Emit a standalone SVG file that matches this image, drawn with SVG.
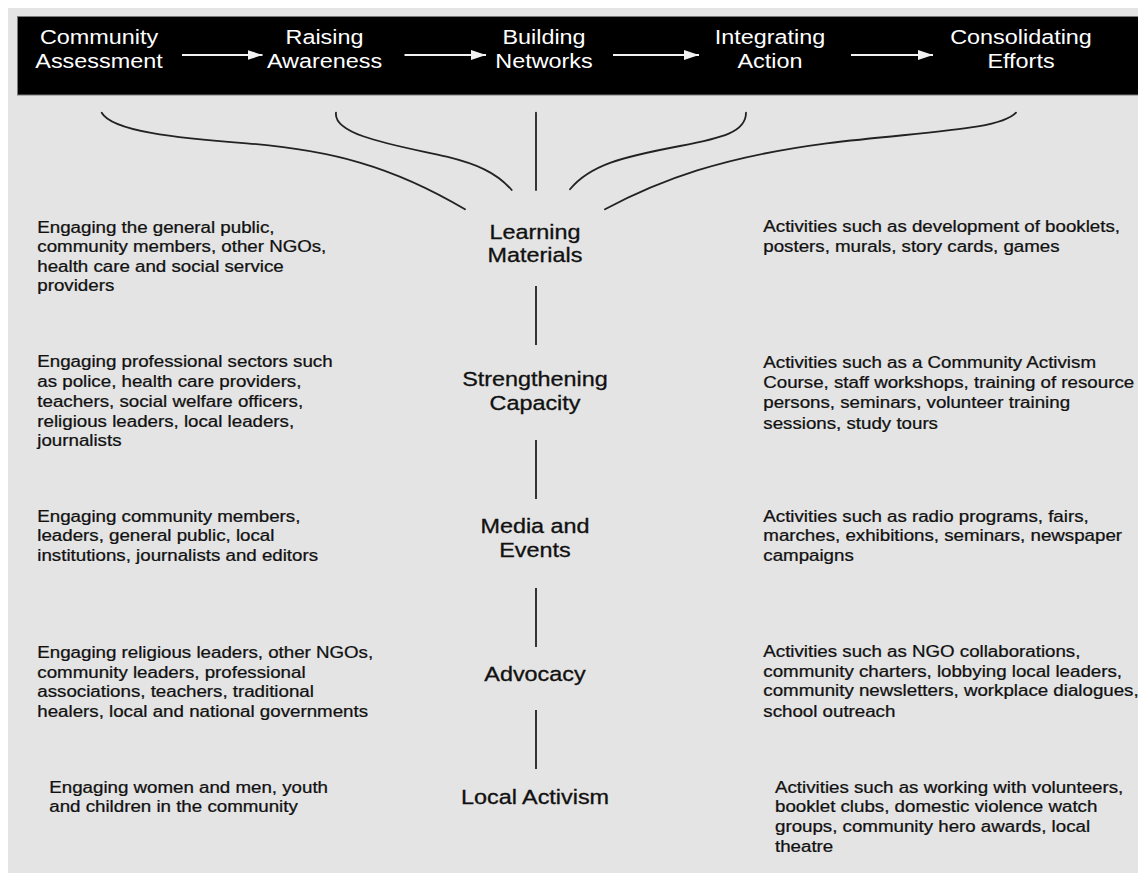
<svg xmlns="http://www.w3.org/2000/svg" width="1138" height="873" viewBox="0 0 1138 873">
  <style>
    .stage { font-family: "Liberation Sans", Arial, sans-serif; font-size: 19.5px; fill: #ffffff; text-anchor: middle; }
    .hub { font-family: "Liberation Sans", Arial, sans-serif; font-size: 19.5px; fill: #111111; stroke: #111111; stroke-width: 0.3; text-anchor: middle; }
    .desc { font-family: "Liberation Sans", Arial, sans-serif; font-size: 15.6px; fill: #111111; stroke: #111111; stroke-width: 0.25; }
    .flow { stroke: #f2f2f2; stroke-width: 2; fill: none; }
    .link { stroke: #222222; stroke-width: 1.8; fill: none; stroke-linecap: round; }
    .spine { stroke: #333333; stroke-width: 2; fill: none; }
  </style>
  <defs>
    <marker id="head" markerUnits="userSpaceOnUse" markerWidth="16" markerHeight="12" refX="15" refY="6" orient="auto">
      <path d="M0,1 L15,6 L0,11 Z" fill="#f2f2f2"/>
    </marker>
  </defs>

  <!-- page -->
  <rect x="0" y="0" width="1138" height="873" fill="#ffffff"/>
  <rect x="8" y="8" width="1130" height="865" fill="#e4e4e4"/>

  <!-- stage bar -->
  <rect id="stage-bar" x="17.5" y="16.5" width="1125" height="78.5" fill="#000000" stroke="#7a7a7a" stroke-width="1"/>

  <g id="stage-assessment">
    <text class="stage" transform="translate(99,44) scale(1.2,1)"><tspan x="0" y="0">Community</tspan><tspan x="0" y="24.5">Assessment</tspan></text>
  </g>
  <g id="stage-awareness">
    <text class="stage" transform="translate(324.5,44) scale(1.2,1)"><tspan x="0" y="0">Raising</tspan><tspan x="0" y="24.5">Awareness</tspan></text>
  </g>
  <g id="stage-networks">
    <text class="stage" transform="translate(544,44) scale(1.2,1)"><tspan x="0" y="0">Building</tspan><tspan x="0" y="24.5">Networks</tspan></text>
  </g>
  <g id="stage-action">
    <text class="stage" transform="translate(770,44) scale(1.2,1)"><tspan x="0" y="0">Integrating</tspan><tspan x="0" y="24.5">Action</tspan></text>
  </g>
  <g id="stage-efforts">
    <text class="stage" transform="translate(1021,44) scale(1.2,1)"><tspan x="0" y="0">Consolidating</tspan><tspan x="0" y="24.5">Efforts</tspan></text>
  </g>

  <!-- connectors -->
  <g id="connectors">
    <line class="flow" x1="182" y1="55" x2="262.5" y2="55" marker-end="url(#head)"/>
    <line class="flow" x1="404.5" y1="55" x2="486" y2="55" marker-end="url(#head)"/>
    <line class="flow" x1="613" y1="55" x2="699" y2="55" marker-end="url(#head)"/>
    <line class="flow" x1="851" y1="55" x2="933" y2="55" marker-end="url(#head)"/>

    <path class="link" d="M101.7,112.7 C112,131 175,138 246.7,143.3 C330,150 392,166 465,209.3"/>
    <path class="link" d="M336,112.7 C333,136 400,146 446.7,156.7 C476,164 496,172 511.7,190"/>
    <line class="link" x1="536" y1="112.7" x2="536" y2="190"/>
    <path class="link" d="M570,189.3 C590,165 622,157 680,146 C722,138 746,132 746,112.7"/>
    <path class="link" d="M605,209.3 C660,180 722,157 826.7,143.3 C930,131 1000,130 1016,112.7"/>

    <line class="spine" x1="536" y1="286" x2="536" y2="345"/>
    <line class="spine" x1="536" y1="440" x2="536" y2="499"/>
    <line class="spine" x1="536" y1="588" x2="536" y2="647"/>
    <line class="spine" x1="536" y1="710" x2="536" y2="769"/>
  </g>

  <!-- central strategies -->
  <g id="hub-learning">
    <text class="hub" transform="translate(535,239) scale(1.2,1)"><tspan x="0" y="0">Learning</tspan><tspan x="0" y="23.5">Materials</tspan></text>
  </g>
  <g id="hub-capacity">
    <text class="hub" transform="translate(535,385.5) scale(1.2,1)"><tspan x="0" y="0">Strengthening</tspan><tspan x="0" y="24.5">Capacity</tspan></text>
  </g>
  <g id="hub-media">
    <text class="hub" transform="translate(535,532.5) scale(1.2,1)"><tspan x="0" y="0">Media and</tspan><tspan x="0" y="25">Events</tspan></text>
  </g>
  <g id="hub-advocacy">
    <text class="hub" transform="translate(535,681) scale(1.2,1)"><tspan x="0" y="0">Advocacy</tspan></text>
  </g>
  <g id="hub-activism">
    <text class="hub" transform="translate(535,804) scale(1.2,1)"><tspan x="0" y="0">Local Activism</tspan></text>
  </g>

  <!-- who is engaged (left column) -->
  <g id="engage-learning">
    <text class="desc" transform="translate(37.3,232.5) scale(1.2,1)"><tspan x="0" y="0">Engaging the general public,</tspan><tspan x="0" y="19.6">community members, other NGOs,</tspan><tspan x="0" y="39.2">health care and social service</tspan><tspan x="0" y="58.5">providers</tspan></text>
  </g>
  <g id="engage-capacity">
    <text class="desc" transform="translate(37.3,366.6) scale(1.2,1)"><tspan x="0" y="0">Engaging professional sectors such</tspan><tspan x="0" y="20">as police, health care providers,</tspan><tspan x="0" y="40">teachers, social welfare officers,</tspan><tspan x="0" y="60">religious leaders, local leaders,</tspan><tspan x="0" y="79.5">journalists</tspan></text>
  </g>
  <g id="engage-media">
    <text class="desc" transform="translate(37.3,521.6) scale(1.2,1)"><tspan x="0" y="0">Engaging community members,</tspan><tspan x="0" y="19.5">leaders, general public, local</tspan><tspan x="0" y="39">institutions, journalists and editors</tspan></text>
  </g>
  <g id="engage-advocacy">
    <text class="desc" transform="translate(37.3,658.2) scale(1.2,1)"><tspan x="0" y="0">Engaging religious leaders, other NGOs,</tspan><tspan x="0" y="19.5">community leaders, professional</tspan><tspan x="0" y="38.5">associations, teachers, traditional</tspan><tspan x="0" y="58.5">healers, local and national governments</tspan></text>
  </g>
  <g id="engage-activism">
    <text class="desc" transform="translate(49.3,792.6) scale(1.2,1)"><tspan x="0" y="0">Engaging women and men, youth</tspan><tspan x="0" y="19.6">and children in the community</tspan></text>
  </g>

  <!-- activities (right column) -->
  <g id="activities-learning">
    <text class="desc" transform="translate(763.3,232.3) scale(1.2,1)"><tspan x="0" y="0">Activities such as development of booklets,</tspan><tspan x="0" y="20">posters, murals, story cards, games</tspan></text>
  </g>
  <g id="activities-capacity">
    <text class="desc" transform="translate(763.3,368.3) scale(1.2,1)"><tspan x="0" y="0">Activities such as a Community Activism</tspan><tspan x="0" y="20">Course, staff workshops, training of resource</tspan><tspan x="0" y="40">persons, seminars, volunteer training</tspan><tspan x="0" y="61">sessions, study tours</tspan></text>
  </g>
  <g id="activities-media">
    <text class="desc" transform="translate(763.3,521.6) scale(1.2,1)"><tspan x="0" y="0">Activities such as radio programs, fairs,</tspan><tspan x="0" y="19.5">marches, exhibitions, seminars, newspaper</tspan><tspan x="0" y="39">campaigns</tspan></text>
  </g>
  <g id="activities-advocacy">
    <text class="desc" transform="translate(763.3,657.3) scale(1.2,1)"><tspan x="0" y="0">Activities such as NGO collaborations,</tspan><tspan x="0" y="20">community charters, lobbying local leaders,</tspan><tspan x="0" y="38.7">community newsletters, workplace dialogues,</tspan><tspan x="0" y="59.4">school outreach</tspan></text>
  </g>
  <g id="activities-activism">
    <text class="desc" transform="translate(775,792.6) scale(1.2,1)"><tspan x="0" y="0">Activities such as working with volunteers,</tspan><tspan x="0" y="19.6">booklet clubs, domestic violence watch</tspan><tspan x="0" y="39.1">groups, community hero awards, local</tspan><tspan x="0" y="59.1">theatre</tspan></text>
  </g>
</svg>
